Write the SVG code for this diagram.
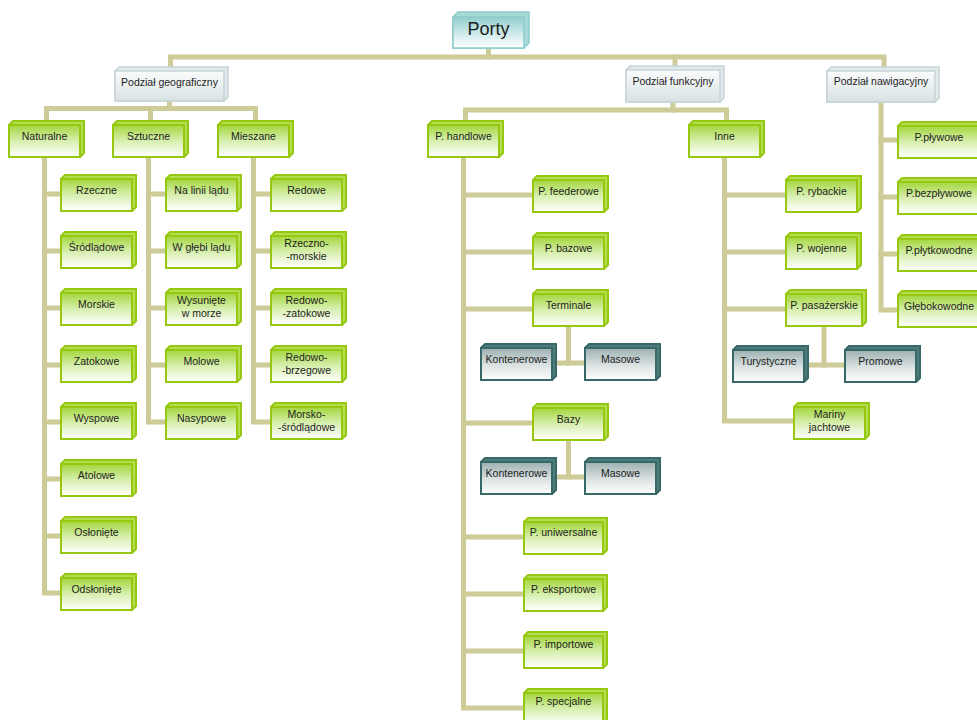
<svg xmlns="http://www.w3.org/2000/svg" width="977" height="720" viewBox="0 0 977 720">
<defs>
<linearGradient id="gGreen" x1="0" y1="0" x2="0" y2="1"><stop offset="0" stop-color="#a3d63c"/><stop offset="0.5" stop-color="#d8efb0"/><stop offset="1" stop-color="#ffffff"/></linearGradient>
<linearGradient id="gTeal" x1="0" y1="0" x2="0" y2="1"><stop offset="0" stop-color="#9db0b0"/><stop offset="0.55" stop-color="#dce3e3"/><stop offset="1" stop-color="#ffffff"/></linearGradient>
<linearGradient id="gGray" x1="0" y1="0" x2="0" y2="1"><stop offset="0" stop-color="#fbfcfc"/><stop offset="1" stop-color="#d8e1e3"/></linearGradient>
<linearGradient id="gRoot" x1="0" y1="0" x2="0" y2="1"><stop offset="0" stop-color="#93cece"/><stop offset="0.6" stop-color="#d6eded"/><stop offset="1" stop-color="#ffffff"/></linearGradient>
</defs>
<style>
.c path{fill:none;stroke:#cdcb98;stroke-width:5;stroke-linecap:square;stroke-linejoin:miter}
.green .bevel{fill:#b4de50;stroke:#95c80f;stroke-width:2}
.green .face{fill:url(#gGreen);stroke:#95c80f;stroke-width:2}
.teal .bevel{fill:#4d7c7c;stroke:#386868;stroke-width:2}
.teal .face{fill:url(#gTeal);stroke:#386868;stroke-width:2}
.gray .bevel{fill:#e3eaec;stroke:#c6d3d6;stroke-width:1.5}
.gray .face{fill:url(#gGray);stroke:#c6d3d6;stroke-width:1.5}
.root .bevel{fill:#a8d9d9;stroke:#8ccccc;stroke-width:1.5}
.root .face{fill:url(#gRoot);stroke:#8ccccc;stroke-width:1.5}
text{font-family:"Liberation Sans",Arial,sans-serif;font-size:10.5px;fill:#1e1e1e;text-anchor:middle}
</style>
<rect width="977" height="720" fill="#ffffff"/>
<g id="connectors" class="c">
<path d="M488.5,48 V57"/>
<path d="M170.5,67 V57 H884 V67"/>
<path d="M675,57 V66"/>
<path d="M169.5,101 V108.5"/>
<path d="M46.5,121 V108.5 H255.5 V121"/>
<path d="M150.5,108.5 V121"/>
<path d="M44.5,157 V593 H61"/>
<path d="M44.5,194 H61 M44.5,251 H61 M44.5,308 H61 M44.5,365 H61 M44.5,422 H61 M44.5,479 H61 M44.5,536 H61"/>
<path d="M148.5,157 V422 H166"/>
<path d="M148.5,194 H166 M148.5,251 H166 M148.5,308 H166 M148.5,365 H166"/>
<path d="M253.5,157 V422 H271"/>
<path d="M253.5,194 H271 M253.5,251 H271 M253.5,308 H271 M253.5,365 H271"/>
<path d="M673,102 V110"/>
<path d="M465.5,121 V110 H726.5 V121"/>
<path d="M463.5,157 V708 H524"/>
<path d="M463.5,195 H533 M463.5,252 H533 M463.5,309 H533 M463.5,423 H533 M463.5,537 H524 M463.5,594 H524 M463.5,651 H524"/>
<path d="M568.5,326 V363"/>
<path d="M556,363 H585"/>
<path d="M568.5,440 V477"/>
<path d="M556,477 H585"/>
<path d="M724.5,157 V421 H794"/>
<path d="M724.5,195 H786 M724.5,252 H786 M724.5,309 H786"/>
<path d="M824,326 V365"/>
<path d="M808,365 H845"/>
<path d="M881,102 V310 H898"/>
<path d="M881,140 H898 M881,197 H898 M881,254 H898"/>
</g>
<g id="n-porty" class="root"><path class="bevel" d="M453,17 L458,12 H529 V43 L524,48 H453 Z"/><rect class="face" x="453" y="17" width="71" height="31"/><text x="488.5" y="35" style="font-size:18px">Porty</text></g>
<g id="n-geo" class="gray"><path class="bevel" d="M115,71 L119,67 H228 V97 L224,101 H115 Z"/><rect class="face" x="115" y="71" width="109" height="30"/><text x="169.5" y="86">Podział geograficzny</text></g>
<g id="n-funk" class="gray"><path class="bevel" d="M626,70 L630,66 H724 V98 L720,102 H626 Z"/><rect class="face" x="626" y="70" width="94" height="32"/><text x="673" y="85">Podział funkcyjny</text></g>
<g id="n-naw" class="gray"><path class="bevel" d="M827,71 L831,67 H939 V98 L935,102 H827 Z"/><rect class="face" x="827" y="71" width="108" height="31"/><text x="881" y="85">Podział nawigacyjny</text></g>
<g id="n-naturalne" class="green"><path class="bevel" d="M9,125 L13,121 H84 V153 L80,157 H9 Z"/><rect class="face" x="9" y="125" width="71" height="32"/><text x="44.5" y="140">Naturalne</text></g>
<g id="n-sztuczne" class="green"><path class="bevel" d="M113,125 L117,121 H188 V153 L184,157 H113 Z"/><rect class="face" x="113" y="125" width="71" height="32"/><text x="148.5" y="140">Sztuczne</text></g>
<g id="n-mieszane" class="green"><path class="bevel" d="M218,125 L222,121 H293 V153 L289,157 H218 Z"/><rect class="face" x="218" y="125" width="71" height="32"/><text x="253.5" y="140">Mieszane</text></g>
<g id="n-handlowe" class="green"><path class="bevel" d="M428,125 L432,121 H503 V153 L499,157 H428 Z"/><rect class="face" x="428" y="125" width="71" height="32"/><text x="463.5" y="140">P. handlowe</text></g>
<g id="n-inne" class="green"><path class="bevel" d="M689,125 L693,121 H764 V153 L760,157 H689 Z"/><rect class="face" x="689" y="125" width="71" height="32"/><text x="724.5" y="140">Inne</text></g>
<g id="n-rzeczne" class="green"><path class="bevel" d="M61,179 L65,175 H136 V207 L132,211 H61 Z"/><rect class="face" x="61" y="179" width="71" height="32"/><text x="96.5" y="194">Rzeczne</text></g>
<g id="n-srodladowe" class="green"><path class="bevel" d="M61,236 L65,232 H136 V264 L132,268 H61 Z"/><rect class="face" x="61" y="236" width="71" height="32"/><text x="96.5" y="251">Śródlądowe</text></g>
<g id="n-morskie" class="green"><path class="bevel" d="M61,293 L65,289 H136 V321 L132,325 H61 Z"/><rect class="face" x="61" y="293" width="71" height="32"/><text x="96.5" y="308">Morskie</text></g>
<g id="n-zatokowe" class="green"><path class="bevel" d="M61,350 L65,346 H136 V378 L132,382 H61 Z"/><rect class="face" x="61" y="350" width="71" height="32"/><text x="96.5" y="365">Zatokowe</text></g>
<g id="n-wyspowe" class="green"><path class="bevel" d="M61,407 L65,403 H136 V435 L132,439 H61 Z"/><rect class="face" x="61" y="407" width="71" height="32"/><text x="96.5" y="422">Wyspowe</text></g>
<g id="n-atolowe" class="green"><path class="bevel" d="M61,464 L65,460 H136 V492 L132,496 H61 Z"/><rect class="face" x="61" y="464" width="71" height="32"/><text x="96.5" y="479">Atolowe</text></g>
<g id="n-oslonite" class="green"><path class="bevel" d="M61,521 L65,517 H136 V549 L132,553 H61 Z"/><rect class="face" x="61" y="521" width="71" height="32"/><text x="96.5" y="536">Osłonięte</text></g>
<g id="n-odslonite" class="green"><path class="bevel" d="M61,578 L65,574 H136 V606 L132,610 H61 Z"/><rect class="face" x="61" y="578" width="71" height="32"/><text x="96.5" y="593">Odsłonięte</text></g>
<g id="n-nalinii" class="green"><path class="bevel" d="M166,179 L170,175 H241 V207 L237,211 H166 Z"/><rect class="face" x="166" y="179" width="71" height="32"/><text x="201.5" y="194">Na linii lądu</text></g>
<g id="n-wglebi" class="green"><path class="bevel" d="M166,236 L170,232 H241 V264 L237,268 H166 Z"/><rect class="face" x="166" y="236" width="71" height="32"/><text x="201.5" y="251">W głębi lądu</text></g>
<g id="n-wysuniete" class="green"><path class="bevel" d="M166,293 L170,289 H241 V321 L237,325 H166 Z"/><rect class="face" x="166" y="293" width="71" height="32"/><text x="201.5" y="304">Wysunięte</text><text x="201.5" y="317">w morze</text></g>
<g id="n-molowe" class="green"><path class="bevel" d="M166,350 L170,346 H241 V378 L237,382 H166 Z"/><rect class="face" x="166" y="350" width="71" height="32"/><text x="201.5" y="365">Molowe</text></g>
<g id="n-nasypowe" class="green"><path class="bevel" d="M166,407 L170,403 H241 V435 L237,439 H166 Z"/><rect class="face" x="166" y="407" width="71" height="32"/><text x="201.5" y="422">Nasypowe</text></g>
<g id="n-redowe" class="green"><path class="bevel" d="M271,179 L275,175 H346 V207 L342,211 H271 Z"/><rect class="face" x="271" y="179" width="71" height="32"/><text x="306.5" y="194">Redowe</text></g>
<g id="n-rzeczno" class="green"><path class="bevel" d="M271,236 L275,232 H346 V264 L342,268 H271 Z"/><rect class="face" x="271" y="236" width="71" height="32"/><text x="306.5" y="247">Rzeczno-</text><text x="306.5" y="260">-morskie</text></g>
<g id="n-redzat" class="green"><path class="bevel" d="M271,293 L275,289 H346 V321 L342,325 H271 Z"/><rect class="face" x="271" y="293" width="71" height="32"/><text x="306.5" y="304">Redowo-</text><text x="306.5" y="317">-zatokowe</text></g>
<g id="n-redbrz" class="green"><path class="bevel" d="M271,350 L275,346 H346 V378 L342,382 H271 Z"/><rect class="face" x="271" y="350" width="71" height="32"/><text x="306.5" y="361">Redowo-</text><text x="306.5" y="374">-brzegowe</text></g>
<g id="n-morsko" class="green"><path class="bevel" d="M271,407 L275,403 H346 V435 L342,439 H271 Z"/><rect class="face" x="271" y="407" width="71" height="32"/><text x="306.5" y="418">Morsko-</text><text x="306.5" y="431">-śródlądowe</text></g>
<g id="n-feeder" class="green"><path class="bevel" d="M533,180 L537,176 H608 V208 L604,212 H533 Z"/><rect class="face" x="533" y="180" width="71" height="32"/><text x="568.5" y="195">P. feederowe</text></g>
<g id="n-bazowe" class="green"><path class="bevel" d="M533,237 L537,233 H608 V265 L604,269 H533 Z"/><rect class="face" x="533" y="237" width="71" height="32"/><text x="568.5" y="252">P. bazowe</text></g>
<g id="n-terminale" class="green"><path class="bevel" d="M533,294 L537,290 H608 V322 L604,326 H533 Z"/><rect class="face" x="533" y="294" width="71" height="32"/><text x="568.5" y="309">Terminale</text></g>
<g id="n-kont1" class="teal"><path class="bevel" d="M481,348 L485,344 H556 V376 L552,380 H481 Z"/><rect class="face" x="481" y="348" width="71" height="32"/><text x="516.5" y="363">Kontenerowe</text></g>
<g id="n-mas1" class="teal"><path class="bevel" d="M585,348 L589,344 H660 V376 L656,380 H585 Z"/><rect class="face" x="585" y="348" width="71" height="32"/><text x="620.5" y="363">Masowe</text></g>
<g id="n-bazy" class="green"><path class="bevel" d="M533,408 L537,404 H608 V436 L604,440 H533 Z"/><rect class="face" x="533" y="408" width="71" height="32"/><text x="568.5" y="423">Bazy</text></g>
<g id="n-kont2" class="teal"><path class="bevel" d="M481,462 L485,458 H556 V490 L552,494 H481 Z"/><rect class="face" x="481" y="462" width="71" height="32"/><text x="516.5" y="477">Kontenerowe</text></g>
<g id="n-mas2" class="teal"><path class="bevel" d="M585,462 L589,458 H660 V490 L656,494 H585 Z"/><rect class="face" x="585" y="462" width="71" height="32"/><text x="620.5" y="477">Masowe</text></g>
<g id="n-uniw" class="green"><path class="bevel" d="M524,522 L528,518 H607 V550 L603,554 H524 Z"/><rect class="face" x="524" y="522" width="79" height="32"/><text x="563.5" y="536">P. uniwersalne</text></g>
<g id="n-eksp" class="green"><path class="bevel" d="M524,579 L528,575 H607 V607 L603,611 H524 Z"/><rect class="face" x="524" y="579" width="79" height="32"/><text x="563.5" y="593">P. eksportowe</text></g>
<g id="n-imp" class="green"><path class="bevel" d="M524,636 L528,632 H607 V664 L603,668 H524 Z"/><rect class="face" x="524" y="636" width="79" height="32"/><text x="563.5" y="648">P. importowe</text></g>
<g id="n-spec" class="green"><path class="bevel" d="M524,693 L528,689 H607 V721 L603,725 H524 Z"/><rect class="face" x="524" y="693" width="79" height="32"/><text x="563.5" y="705">P. specjalne</text></g>
<g id="n-rybackie" class="green"><path class="bevel" d="M786,180 L790,176 H861 V208 L857,212 H786 Z"/><rect class="face" x="786" y="180" width="71" height="32"/><text x="821.5" y="195">P. rybackie</text></g>
<g id="n-wojenne" class="green"><path class="bevel" d="M786,237 L790,233 H861 V265 L857,269 H786 Z"/><rect class="face" x="786" y="237" width="71" height="32"/><text x="821.5" y="252">P. wojenne</text></g>
<g id="n-pasaz" class="green"><path class="bevel" d="M786,294 L790,290 H866 V322 L862,326 H786 Z"/><rect class="face" x="786" y="294" width="76" height="32"/><text x="824" y="309">P. pasażerskie</text></g>
<g id="n-turyst" class="teal"><path class="bevel" d="M733,350 L737,346 H808 V378 L804,382 H733 Z"/><rect class="face" x="733" y="350" width="71" height="32"/><text x="768.5" y="365">Turystyczne</text></g>
<g id="n-promowe" class="teal"><path class="bevel" d="M845,350 L849,346 H920 V378 L916,382 H845 Z"/><rect class="face" x="845" y="350" width="71" height="32"/><text x="880.5" y="365">Promowe</text></g>
<g id="n-mariny" class="green"><path class="bevel" d="M794,407 L798,403 H869 V435 L865,439 H794 Z"/><rect class="face" x="794" y="407" width="71" height="32"/><text x="829.5" y="418">Mariny</text><text x="829.5" y="431">jachtowe</text></g>
<g id="n-plywowe" class="green"><path class="bevel" d="M898,126 L902,122 H984 V154 L980,158 H898 Z"/><rect class="face" x="898" y="126" width="82" height="32"/><text x="939" y="141">P.pływowe</text></g>
<g id="n-bezplyw" class="green"><path class="bevel" d="M898,182 L902,178 H984 V210 L980,214 H898 Z"/><rect class="face" x="898" y="182" width="82" height="32"/><text x="939" y="197">P.bezpływowe</text></g>
<g id="n-plytko" class="green"><path class="bevel" d="M898,239 L902,235 H984 V267 L980,271 H898 Z"/><rect class="face" x="898" y="239" width="82" height="32"/><text x="939" y="254">P.płytkowodne</text></g>
<g id="n-glebok" class="green"><path class="bevel" d="M898,295 L902,291 H984 V323 L980,327 H898 Z"/><rect class="face" x="898" y="295" width="82" height="32"/><text x="939" y="310">Głębokowodne</text></g>
</svg>
